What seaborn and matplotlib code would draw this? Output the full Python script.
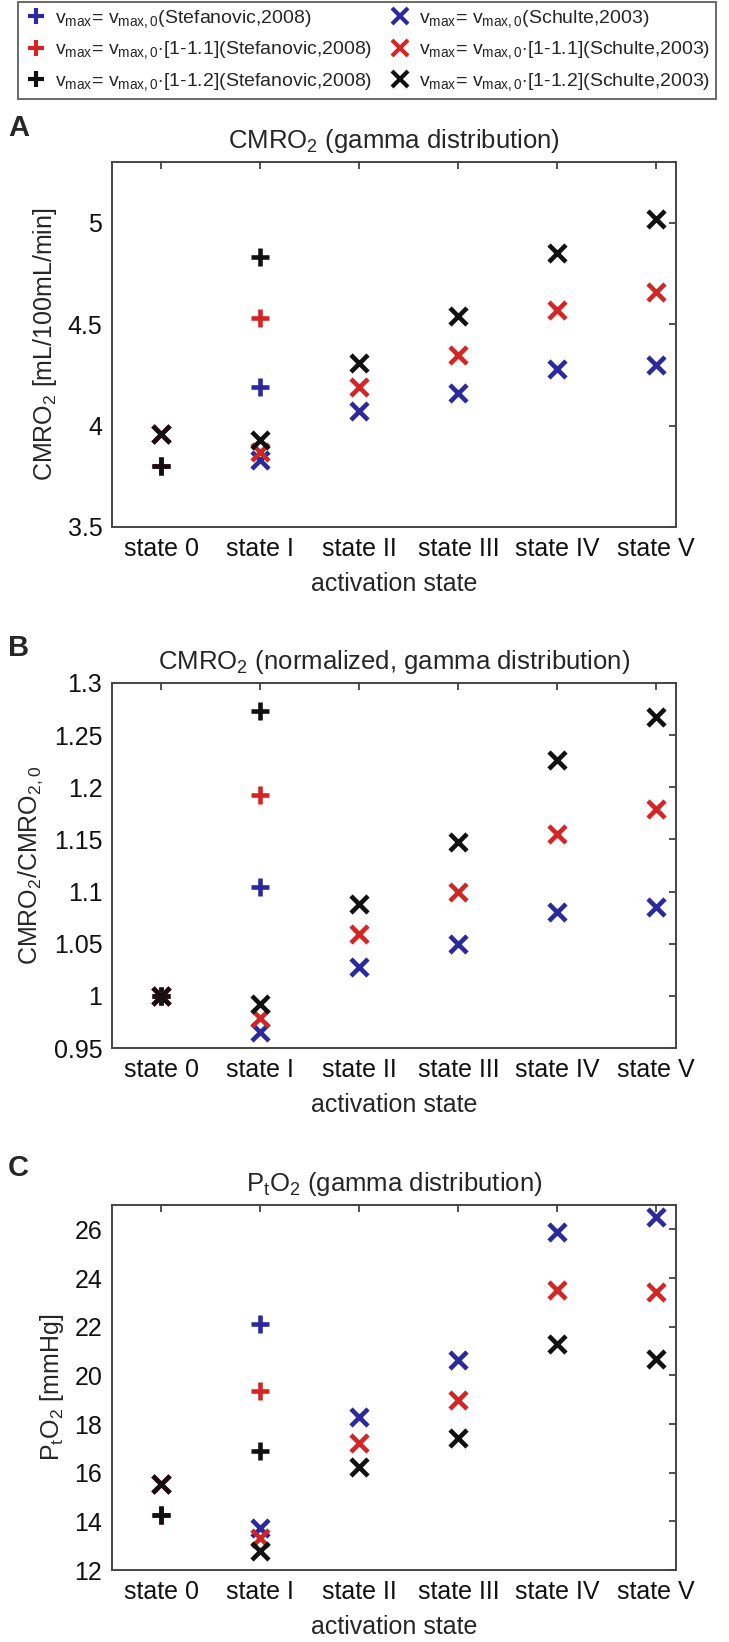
import numpy as np
import pandas as pd
import matplotlib
matplotlib.use("Agg")
import matplotlib.pyplot as plt
import seaborn as sns

# ---------------- data ----------------
states = ["state 0", "state I", "state II", "state III", "state IV", "state V"]

# Panel A : CMRO2 [mL/100mL/min]
a_stef_blue = [3.80, 4.19]
a_stef_red = [3.80, 4.53]
a_stef_black = [3.80, 4.83]
a_sch_blue = [3.96, 3.83, 4.07, 4.16, 4.28, 4.30]
a_sch_red = [3.96, 3.87, 4.19, 4.35, 4.57, 4.66]
a_sch_black = [3.96, 3.93, 4.31, 4.54, 4.85, 5.02]

# Panel B : normalized CMRO2
b_stef_blue = [1.0, 1.104]
b_stef_red = [1.0, 1.193]
b_stef_black = [1.0, 1.273]
b_sch_blue = [1.0, 0.965, 1.028, 1.050, 1.080, 1.085]
b_sch_red = [1.0, 0.979, 1.059, 1.100, 1.155, 1.179]
b_sch_black = [1.0, 0.992, 1.088, 1.148, 1.226, 1.267]

# Panel C : PtO2 [mmHg]
c_stef_blue = [14.26, 22.12]
c_stef_red = [14.26, 19.36]
c_stef_black = [14.26, 16.88]
c_sch_blue = [15.55, 13.73, 18.27, 20.62, 25.90, 26.49]
c_sch_red = [15.55, 13.31, 17.23, 18.97, 23.51, 23.44]
c_sch_black = [15.55, 12.80, 16.22, 17.41, 21.29, 20.69]

legend_labels = [
    r"$\mathregular{v_{max}}$= $\mathregular{v_{max,0}}$(Stefanovic,2008)",
    r"$\mathregular{v_{max}}$= $\mathregular{v_{max,0}}$$\cdot$[1-1.1](Stefanovic,2008)",
    r"$\mathregular{v_{max}}$= $\mathregular{v_{max,0}}$$\cdot$[1-1.2](Stefanovic,2008)",
    r"$\mathregular{v_{max}}$= $\mathregular{v_{max,0}}$(Schulte,2003)",
    r"$\mathregular{v_{max}}$= $\mathregular{v_{max,0}}$$\cdot$[1-1.1](Schulte,2003)",
    r"$\mathregular{v_{max}}$= $\mathregular{v_{max,0}}$$\cdot$[1-1.2](Schulte,2003)",
]

titles = [r"CMRO$_2$ (gamma distribution)",
          r"CMRO$_2$ (normalized, gamma distribution)",
          r"P$_\mathregular{t}$O$_2$ (gamma distribution)"]
ylabels = [r"CMRO$_2$ [mL/100mL/min]",
           r"CMRO$_2$/CMRO$_{2,0}$",
           r"P$_\mathregular{t}$O$_2$ [mmHg]"]
panel_letters = ["A", "B", "C"]
yticks_list = [[3.5, 4, 4.5, 5],
               [0.95, 1, 1.05, 1.1, 1.15, 1.2, 1.25, 1.3],
               [12, 14, 16, 18, 20, 22, 24, 26]]
ytick_labels = [["3.5", "4", "4.5", "5"],
                ["0.95", "1", "1.05", "1.1", "1.15", "1.2", "1.25", "1.3"],
                ["12", "14", "16", "18", "20", "22", "24", "26"]]
ylims = [(3.5, 5.3), (0.95, 1.3), (12, 27)]

panels = [
    [a_stef_blue, a_stef_red, a_stef_black, a_sch_blue, a_sch_red, a_sch_black],
    [b_stef_blue, b_stef_red, b_stef_black, b_sch_blue, b_sch_red, b_sch_black],
    [c_stef_blue, c_stef_red, c_stef_black, c_sch_blue, c_sch_red, c_sch_black],
]

colors = ["#2a2a9e", "#d42424", "#111111"] * 2
markers = ["+", "+", "+", "x", "x", "x"]

# ---------------- style ----------------
sns.set_style("white")
plt.rcParams["font.family"] = ["Liberation Sans", "DejaVu Sans"]
plt.rcParams["mathtext.fontset"] = "custom"
plt.rcParams["mathtext.rm"] = "Liberation Sans"
plt.rcParams["mathtext.it"] = "Liberation Sans:italic"
plt.rcParams["mathtext.bf"] = "Liberation Sans:bold"

W, H = 729, 1642
fig = plt.figure(figsize=(W / 100, H / 100), dpi=100)

ax_left = 112 / W
ax_w = (676 - 112) / W
ax_h = 365 / H
tops = [162, 683, 1205]
letter_y = [128, 648, 1168]

axes = []
for i in range(3):
    ax = fig.add_axes([ax_left, 1 - (tops[i] + 365) / H, ax_w, ax_h])
    axes.append(ax)
    for j, vals in enumerate(panels[i]):
        xs = np.arange(len(vals))
        df = pd.DataFrame({"x": xs, "y": vals})
        sns.scatterplot(data=df, x="x", y="y", ax=ax, marker=markers[j],
                        color=colors[j], s=150, linewidth=3.3,
                        label=legend_labels[j], legend=False, zorder=3 + j)
    ax.set_xlim(-0.5, 5.2)
    ax.set_ylim(*ylims[i])
    ax.set_xticks(np.arange(len(states)))
    ax.set_xticklabels(states)
    ax.set_yticks(yticks_list[i])
    ax.set_yticklabels(ytick_labels[i])
    ax.set_xlabel("activation state", fontsize=18, labelpad=8)
    ax.set_ylabel(ylabels[i], fontsize=18, labelpad=6)
    ax.set_title(titles[i], fontsize=18.5, pad=10)
    ax.tick_params(direction="in", top=True, right=True, length=5, width=1.2,
                   colors="#333333", labelcolor="#111111", labelsize=18, pad=7)
    for sp in ax.spines.values():
        sp.set_visible(True)
        sp.set_color("#444444")
        sp.set_linewidth(1.4)
    fig.text(8 / W, 1 - letter_y[i] / H, panel_letters[i], fontsize=21,
             fontweight="bold", va="center", ha="left")

# legend
handles = [plt.Line2D([], [], linestyle="none", marker=markers[j], color=colors[j],
                      markersize=11, markeredgewidth=3.0) for j in range(6)]
leg = fig.legend(handles, legend_labels, ncol=2, loc="upper left",
                 bbox_to_anchor=(18 / W, 1 - 2 / H),
                 frameon=True, fancybox=False, edgecolor="#444444",
                 fontsize=14, handlelength=1.2, handletextpad=0.4,
                 labelspacing=0.5, borderpad=0.3, columnspacing=0.83,
                 borderaxespad=0)
leg.get_frame().set_linewidth(1.4)

fig.savefig("out.png", dpi=100)
